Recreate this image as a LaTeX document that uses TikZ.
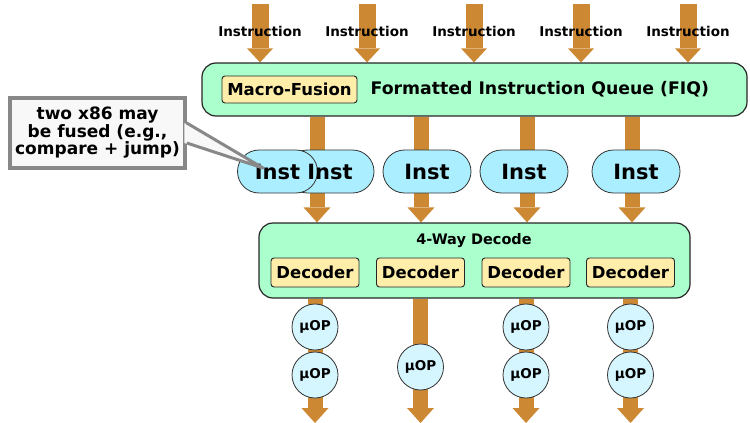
\documentclass[tikz,border=0pt]{standalone}
\usepackage{fontspec}
\setmainfont{DejaVu Sans}
\usetikzlibrary{arrows.meta,positioning,shapes.misc}
\pgfdeclarelayer{bg}
\pgfsetlayers{bg,main}
\definecolor{flow}{HTML}{CC8833}
\definecolor{queue}{HTML}{AAFFCC}
\definecolor{instc}{HTML}{AAEEFF}
\definecolor{uopc}{HTML}{D5F5FF}
\definecolor{unitc}{HTML}{FFEEAA}
\definecolor{notec}{HTML}{F8F8F8}
\definecolor{noteline}{HTML}{888888}
\newcommand{\fsz}[1]{\fontsize{#1}{#1}\selectfont\bfseries}
\tikzset{
  panel/.style={draw=black!85,line width=1.2pt,fill=queue,rounded corners=14pt},
  unit/.style={draw=black!85,line width=0.9pt,fill=unitc,rounded corners=3pt,inner sep=0pt,font=\fsz{16.5}},
  pill/.style={rounded rectangle,draw=black!80,line width=0.8pt,fill=instc,minimum height=43pt,inner sep=0pt,font=\fsz{21}},
  uop/.style={circle,draw=black!80,line width=0.8pt,fill=uopc,minimum size=46pt,inner sep=0pt,font=\fsz{13.5}},
  note/.style={draw=noteline,line width=3.5pt,fill=notec,align=center,minimum width=175pt,minimum height=70pt,inner sep=0pt,font=\fontsize{17}{17.5}\selectfont\bfseries},
  feed/.style={draw=flow,line width=17pt,-{Triangle[width=26pt,length=14pt,line width=0pt]}},
  pass/.style={draw=flow,line width=15pt,-{Triangle[width=27pt,length=15pt,line width=0pt]}},
}
\begin{document}
\begin{tikzpicture}[x=1pt,y=-1pt]
  \useasboundingbox (0,0) rectangle (750,423);
  % queue
  \node[panel,minimum width=545pt,minimum height=53pt] (fiq) at (474.5,89.5) {};
  \node[unit,minimum width=135pt,minimum height=27pt] (mf) at (289.5,89.5) {Macro-Fusion};
  \node[right=13pt of mf,inner sep=0pt,font=\fsz{17.3}] (fiqtxt) {Formatted Instruction Queue (FIQ)};
  \foreach \x [count=\i] in {260,367,474,581,688}{
    \coordinate (src\i) at (\x,4);
    \node[font=\fsz{13.5}] (lbl\i) at (\x,31) {Instruction};
  }
  % decode
  \node[panel,minimum width=431pt,minimum height=75pt] (dec) at (474.5,260.5) {};
  \node[font=\fsz{14.5}] (dectitle) at (474,241) {4-Way Decode};
  \foreach \x [count=\i] in {315,420.5,526,630.5}
    \node[unit,minimum width=88pt,minimum height=29pt] (d\i) at (\x,272.5) {Decoder};
  % fused pair
  \node[pill,minimum width=88pt] (instB) at (330,171.5) {};
  \node[pill,minimum width=80pt] (instA) at (277.5,171.5) {Inst};
  \node[font=\fsz{21}] (instBtxt) at (instB) {Inst};
  \node[pill,minimum width=88pt] (instC) at (427,171.5) {Inst};
  \node[pill,minimum width=88pt] (instD) at (524,171.5) {Inst};
  \node[pill,minimum width=88pt] (instE) at (636,171.5) {Inst};
  % micro-ops
  \node[uop] (u1a) at (d1 |- 0,327) {µOP};
  \node[uop] (u1b) at (d1 |- 0,375) {µOP};
  \node[uop] (u2a) at (d2 |- 0,367) {µOP};
  \node[uop] (u3a) at (d3 |- 0,327) {µOP};
  \node[uop] (u3b) at (d3 |- 0,375) {µOP};
  \node[uop] (u4a) at (d4 |- 0,327) {µOP};
  \node[uop] (u4b) at (d4 |- 0,375) {µOP};
  % flow arrows
  \begin{pgfonlayer}{bg}
    \foreach \i in {1,...,5}
      \draw[feed] (src\i) -- (src\i |- fiq.north);
    \foreach \x in {317,421,527,632}
      \draw[pass] (\x,0 |- fiq.south) -- (\x,0 |- dec.north);
    \foreach \i in {1,...,4}
      \draw[pass] (dec.south -| d\i) -- (d\i |- 0,423);
  \end{pgfonlayer}
  % callout
  \node[note] (note) at (97.5,133) {two x86 may\\be fused (e.g.,\\compare + jump)};
  \coordinate (tip) at (263,168);
  \fill[notec] ([xshift=-2.5pt,yshift=10pt]note.east) -- (tip) -- ([xshift=-2.5pt,yshift=-10pt]note.east) -- cycle;
  \draw[noteline,line width=3pt,line join=round] ([yshift=10pt]note.east) -- (tip) -- ([yshift=-10pt]note.east);
\end{tikzpicture}
\end{document}
